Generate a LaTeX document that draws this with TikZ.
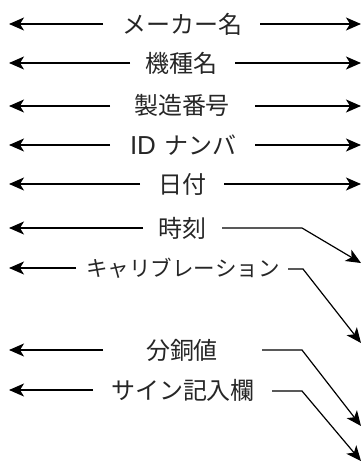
\documentclass[tikz,border=0pt]{standalone}
\usepackage{fontspec}
\setmainfont{Liberation Sans}
\newfontfamily\jp{Noto Sans CJK JP}
\usetikzlibrary{arrows.meta}
\tikzset{
  lbl/.style={inner sep=0pt, font=\jp\fontsize{24}{28}\selectfont, text=black!85},
  arr/.style={line width=1.2pt, -{Stealth[length=15pt,width=13pt,inset=4pt]}},
}
\begin{document}
\begin{tikzpicture}[x=1pt,y=-1pt]
\useasboundingbox (0,0) rectangle (362,464);
% labels
\node[lbl] (t1) at (182,24) {メーカー名};
\node[lbl] (t2) at (181,63) {機種名};
\node[lbl] (t3) at (182,105) {製造番号};
\node[lbl] (t4) at (183,145) {{\rmfamily\fontsize{26}{28}\selectfont ID}\hspace{8pt}ナンバ};
\node[lbl] (t5) at (182,184) {日付};
\node[lbl] (t6) at (182,228) {時刻};
\node[lbl, font=\jp\fontsize{21.5}{26}\selectfont] (t7) at (183,268) {キャリブレーション};
\node[lbl] (t8) at (182,350) {分銅値};
\node[lbl] (t9) at (183,390) {サイン記入欄};
% left segments
\foreach \i/\y/\xl in {1/24/103, 2/63/130, 3/106/110, 4/145/110, 5/184/140, 6/228/143, 7/268/76, 8/350/103, 9/390/93}{
  \coordinate (la\i) at (\xl,\y);
  \coordinate (L\i) at (9,\y);
}
% right straight rows
\foreach \i/\y/\xr in {1/24/260, 2/63/235, 3/106/255, 4/145/255, 5/184/224}{
  \coordinate (ra\i) at (\xr,\y);
  \coordinate (R\i) at (361,\y);
}
% right bent rows
\coordinate (ra6) at (222,228); \coordinate (b6) at (302,228); \coordinate (R6) at (361,263);
\coordinate (ra7) at (288,269); \coordinate (b7) at (303,269); \coordinate (R7) at (361,343);
\coordinate (ra8) at (262,350); \coordinate (b8) at (302,350); \coordinate (R8) at (361,426);
\coordinate (ra9) at (272,391); \coordinate (b9) at (302,391); \coordinate (R9) at (361,461);
\foreach \i in {1,...,9}{ \draw[arr] (la\i) -- (L\i); }
\foreach \i in {1,...,5}{ \draw[arr] (ra\i) -- (R\i); }
\foreach \i in {6,...,9}{ \draw[arr] (ra\i) -- (b\i) -- (R\i); }
\end{tikzpicture}
\end{document}
